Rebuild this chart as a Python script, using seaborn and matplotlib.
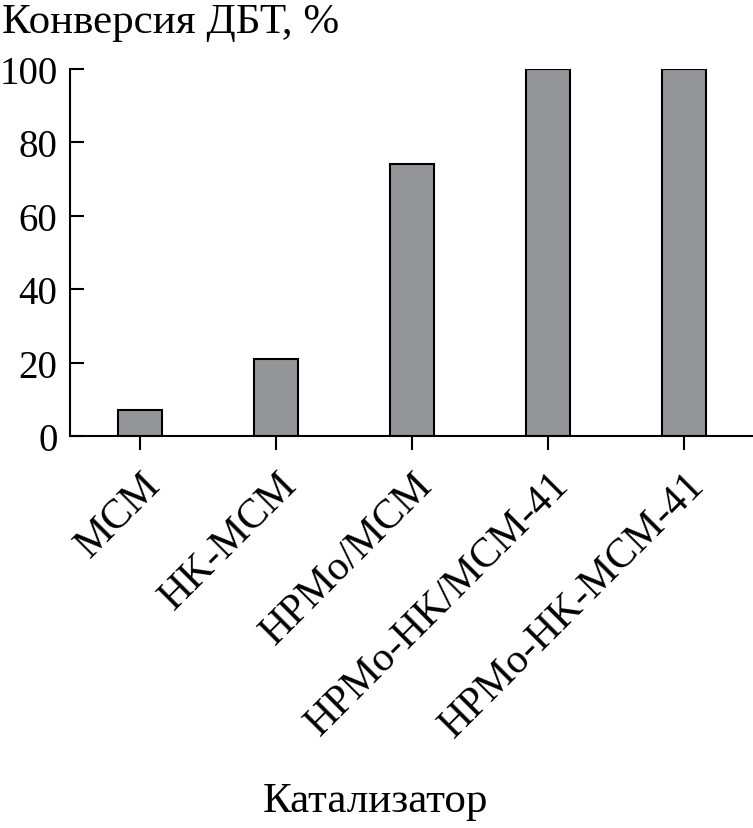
import matplotlib
matplotlib.use('Agg')
import matplotlib.pyplot as plt
import matplotlib.transforms as mtransforms
import seaborn as sns
import pandas as pd

## data
catalysts = ['MCM', 'HK-MCM', 'HPMo/MCM', 'HPMo-HK/MCM-41', 'HPMo-HK-MCM-41']
conversion = [7, 21, 74, 100, 100]
y_ticks = [0, 20, 40, 60, 80, 100]

sns.set_style('ticks')
plt.rcParams['font.family'] = ['Liberation Serif', 'DejaVu Serif']
plt.rcParams['axes.linewidth'] = 1.5
for key in ['text.color', 'axes.edgecolor', 'axes.labelcolor', 'xtick.color', 'ytick.color']:
    plt.rcParams[key] = 'black'

df = pd.DataFrame({'catalyst': catalysts, 'conversion': conversion})

fig = plt.figure(figsize=(7.53, 8.29), dpi=100)
ax = fig.add_axes([0.093, 0.4729, 0.9057, 0.4427])

## bars
sns.barplot(data=df, x='catalyst', y='conversion', color='#939598',
            edgecolor='black', linewidth=1.5, width=0.32, saturation=1, ax=ax)

ax.set_ylim(0, 100)
ax.set_xlim(-0.515, 4.5)
ax.set_yticks(y_ticks)
ax.set_xlabel('')
ax.set_ylabel('')
sns.despine(ax=ax)

## y ticks point inward, x ticks outward
ax.tick_params(axis='y', direction='in', length=10, width=1.5, labelsize=28, pad=9)
ax.tick_params(axis='x', direction='out', length=10, width=1.5, labelsize=30, pad=26)
shift = mtransforms.ScaledTranslation(0.22, 0, fig.dpi_scale_trans)
for lbl in ax.get_xticklabels():
    lbl.set_rotation(45)
    lbl.set_ha('right')
    lbl.set_va('baseline')
    lbl.set_rotation_mode('anchor')
    lbl.set_transform(lbl.get_transform() + shift)

## titles and stuff
fig.text(0.002, 0.960, 'Конверсия ДБТ, %', fontsize=31, ha='left', va='baseline')
fig.text(0.4987, 0.0205, 'Катализатор', fontsize=31, ha='center', va='baseline')

fig.savefig('out.png', dpi=100)
